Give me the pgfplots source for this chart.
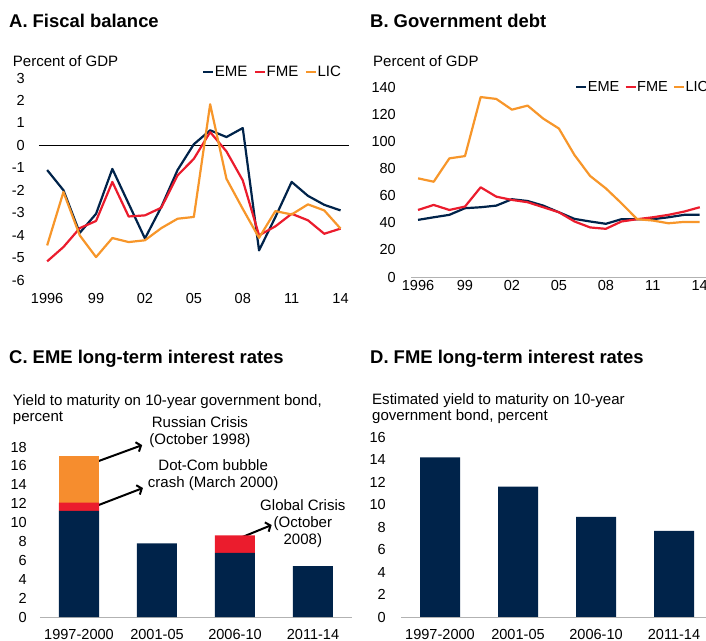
\documentclass[border=0pt]{standalone}
\usepackage{fontspec}
\setmainfont{Liberation Sans}
\usepackage{pgfplots}
\pgfplotsset{compat=1.18}
\usetikzlibrary{arrows.meta}
\definecolor{navy}{HTML}{00234A}
\definecolor{fred}{HTML}{EB1C2D}
\definecolor{forange}{HTML}{F7962A}
\definecolor{barorange}{HTML}{F68D2E}
\newcommand{\fs}{\fontsize{15.1}{17}\selectfont}
\newcommand{\fk}{\fontsize{14.6}{17}\selectfont}
\newcommand{\ft}{\fontsize{18.5}{21}\selectfont\bfseries}
\pgfplotsset{
  base/.style={scale only axis, clip=false,
    /pgf/number format/assume math mode=true,
    tick label style={font=\fk, inner sep=0pt},
    major tick length=0pt, tick style={draw=none},
    axis line style={draw=none}},
  linepanel/.style={base,
    xtick={1996,1999,2002,2005,2008,2011,2014},
    xticklabels={1996,99,02,05,08,11,14},
    legend columns=3,
    legend style={draw=none, fill=none, inner sep=0pt, font=\fs,
      nodes={inner xsep=0.5bp, inner ysep=0pt},
      /tikz/every even column/.append style={column sep=6bp}},
    legend image code/.code={\draw[#1, line width=2.2bp] (0bp,0bp) -- (10bp,0bp);},
    every axis plot/.append style={line width=2.2bp, line join=round}},
  barpanel/.style={base, xmin=-0.5, ymin=0, xtick={0,1,2,3},
    xticklabels={1997-2000,2001-05,2006-10,2011-14},
    bar width=40bp}
}
\begin{document}
\begin{tikzpicture}
\path[use as bounding box] (0bp,0bp) rectangle (706bp,-641bp);
% titles
\node[anchor=base west, inner sep=0pt, font=\ft] at (9bp,-27bp) {A. Fiscal balance};
\node[anchor=base west, inner sep=0pt, font=\ft] at (370bp,-27bp) {B. Government debt};
\node[anchor=base west, inner sep=0pt, font=\ft] at (9bp,-363bp) {C. EME long-term interest rates};
\node[anchor=base west, inner sep=0pt, font=\ft] at (370bp,-363bp) {D. FME long-term interest rates};
% unit labels
\node[anchor=base west, inner sep=0pt, font=\fs] at (12.7bp,-66bp) {Percent of GDP};
\node[anchor=base west, inner sep=0pt, font=\fs] at (373bp,-66bp) {Percent of GDP};
\node[anchor=base west, inner sep=0pt, font=\fs] at (12.7bp,-405bp) {Yield to maturity on 10-year government bond,};
\node[anchor=base west, inner sep=0pt, font=\fs] at (12.7bp,-421bp) {percent};
\node[anchor=base west, inner sep=0pt, font=\fs] at (372bp,-404bp) {Estimated yield to maturity on 10-year};
\node[anchor=base west, inner sep=0pt, font=\fs] at (372bp,-420bp) {government bond, percent};

% Panel A
\begin{axis}[linepanel, at={(39bp,-280bp)}, anchor=south west,
  width=309.7bp, height=202bp, xmin=1995.5, xmax=2014.5, ymin=-6, ymax=3,
  ytick={-6,-5,...,3},
  yticklabel style={anchor=east, xshift=-14bp},
  xticklabel style={anchor=north, yshift=-13bp},
  legend style={at={(0.526,1.03)}, anchor=west}]
\addplot[black, line width=0.8bp, forget plot] coordinates {(1995.5,0) (2014.5,0)};
\addplot[navy] coordinates {(1996,-1.1) (1997,-2.0) (1998,-3.9) (1999,-3.05) (2000,-1.05) (2001,-2.6) (2002,-4.15) (2003,-2.75) (2004,-1.1) (2005,0.05) (2006,0.67) (2007,0.37) (2008,0.77) (2009,-4.68) (2010,-3.2) (2011,-1.63) (2012,-2.25) (2013,-2.65) (2014,-2.9)};
\addplot[fred] coordinates {(1996,-5.17) (1997,-4.53) (1998,-3.69) (1999,-3.37) (2000,-1.63) (2001,-3.17) (2002,-3.12) (2003,-2.78) (2004,-1.34) (2005,-0.6) (2006,0.59) (2007,-0.27) (2008,-1.56) (2009,-4.01) (2010,-3.61) (2011,-3.05) (2012,-3.34) (2013,-3.94) (2014,-3.71)};
\addplot[forange] coordinates {(1996,-4.46) (1997,-2.08) (1998,-4.01) (1999,-4.98) (2000,-4.13) (2001,-4.31) (2002,-4.23) (2003,-3.69) (2004,-3.27) (2005,-3.19) (2006,1.83) (2007,-1.49) (2008,-2.83) (2009,-4.12) (2010,-2.93) (2011,-3.08) (2012,-2.63) (2013,-2.9) (2014,-3.71)};
\legend{EME,FME,LIC}
\end{axis}

% Panel B
\begin{axis}[linepanel, at={(411bp,-277bp)}, anchor=south west,
  width=295bp, height=190bp, xmin=1995.55, xmax=2014.4, ymin=0, ymax=140,
  ytick={0,20,...,140},
  yticklabel style={anchor=east, xshift=-15bp},
  xticklabel style={anchor=north, yshift=-3bp},
  legend style={at={(0.556,1.0)}, anchor=west, font=\fk,
    /tikz/every even column/.append style={column sep=4.5bp}}]
\addplot[gray!60, line width=1bp, forget plot] coordinates {(1995.55,0) (2014.4,0)};
\addplot[navy] coordinates {(1996,42.1) (1997,44) (1998,45.8) (1999,50.7) (2000,51.4) (2001,52.6) (2002,57.3) (2003,56) (2004,52.6) (2005,47.7) (2006,42.8) (2007,40.9) (2008,39.2) (2009,42.6) (2010,42.6) (2011,42.6) (2012,44) (2013,45.8) (2014,45.8)};
\addplot[fred] coordinates {(1996,49.4) (1997,53.1) (1998,49.4) (1999,51.9) (2000,66.1) (2001,59.2) (2002,56.8) (2003,55.1) (2004,51.4) (2005,47.7) (2006,40.9) (2007,36.5) (2008,35.5) (2009,40.9) (2010,42.6) (2011,44) (2012,45.8) (2013,48.2) (2014,51.4)};
\addplot[forange] coordinates {(1996,72.7) (1997,70.2) (1998,87.4) (1999,89.1) (2000,132.6) (2001,131.2) (2002,123.3) (2003,126.3) (2004,116.7) (2005,109.4) (2006,89.8) (2007,74.4) (2008,65.3) (2009,54.3) (2010,42.6) (2011,41.6) (2012,39.6) (2013,40.6) (2014,40.6)};
\legend{EME,FME,LIC}
\end{axis}

% Panel C
\begin{axis}[barpanel, ybar stacked, at={(40bp,-617bp)}, anchor=south west,
  width=312bp, height=170bp, xmax=3.5, ymax=18,
  ytick={0,2,...,18},
  yticklabel style={anchor=east, xshift=-13bp},
  xticklabel style={anchor=north, yshift=-12bp}]
\addplot[fill=navy, draw=none] coordinates {(0,11.25) (1,7.8) (2,6.8) (3,5.4)};
\addplot[fill=fred, draw=none] coordinates {(0,0.85) (1,0) (2,1.85) (3,0)};
\addplot[fill=barorange, draw=none] coordinates {(0,4.9) (1,0) (2,0) (3,0)};
\draw[gray!60, line width=1bp] (rel axis cs:0,0) -- (rel axis cs:1,0);
\draw[black, line width=2bp, -{Straight Barb[length=4bp,width=10bp]}] (axis cs:0.115,16.1) -- (axis cs:0.81,18.2);
\draw[black, line width=2bp, -{Straight Barb[length=4bp,width=10bp]}] (axis cs:0.14,11.5) -- (axis cs:0.82,13.66);
\draw[black, line width=2bp, -{Straight Barb[length=4bp,width=10bp]}] (axis cs:2.0,8.15) -- (axis cs:2.47,9.74);
\node[font=\fs, align=center, inner sep=0pt] at (axis cs:1.55,19.6) {Russian Crisis\\(October 1998)};
\node[font=\fs, align=center, inner sep=0pt] at (axis cs:1.72,15.05) {Dot-Com bubble\\crash (March 2000)};
\node[font=\fs, align=center, inner sep=0pt] at (axis cs:2.87,9.9) {Global Crisis\\(October\\2008)};
\end{axis}

% Panel D
\begin{axis}[barpanel, ybar, at={(401bp,-617bp)}, anchor=south west,
  width=305bp, height=180bp, xmax=3.41, ymax=16,
  ytick={0,2,...,16},
  yticklabel style={anchor=east, xshift=-15bp},
  xticklabel style={anchor=north, yshift=-12bp}]
\addplot[fill=navy, draw=none] coordinates {(0,14.2) (1,11.6) (2,8.9) (3,7.65)};
\draw[gray!60, line width=1bp] (rel axis cs:0,0) -- (rel axis cs:1,0);
\end{axis}
\end{tikzpicture}
\end{document}
